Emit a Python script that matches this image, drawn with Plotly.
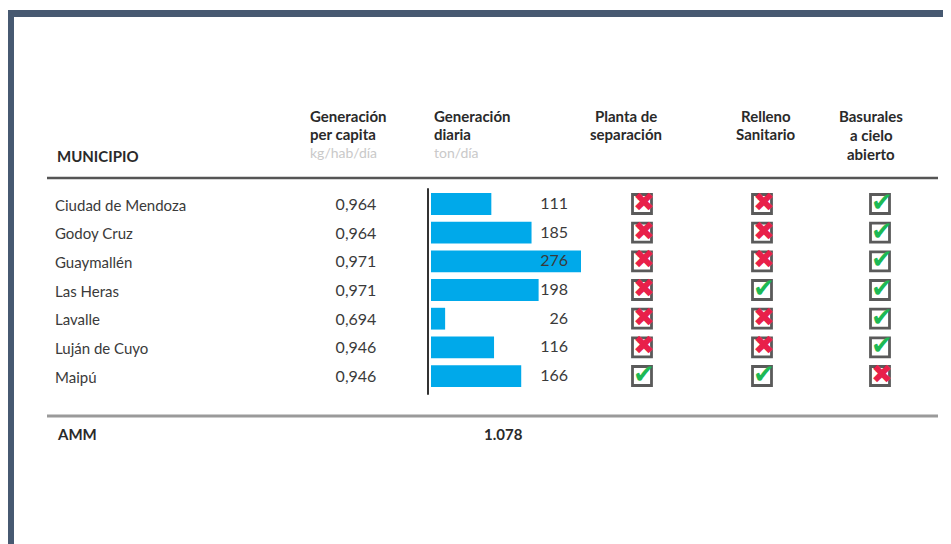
import plotly.graph_objects as go

# ---------------- data ----------------
municipios = ["Ciudad de Mendoza", "Godoy Cruz", "Guaymallén", "Las Heras",
              "Lavalle", "Luján de Cuyo", "Maipú"]
per_capita = ["0,964", "0,964", "0,971", "0,971", "0,694", "0,946", "0,946"]
diaria = [111, 185, 276, 198, 26, 116, 166]
planta = [False, False, False, False, False, False, True]
relleno = [False, False, False, True, False, False, True]
basurales = [True, True, True, True, True, True, False]
total_label = "AMM"
total_diaria = "1.078"

# ---------------- layout helpers ----------------
OFF = 8                      # page body margin of the written html
W, H = 951 - OFF, 544 - OFF  # figure size
FONT = "Lato, 'Open Sans', sans-serif"
TXT = "#3a3a3a"
rows = list(range(len(municipios)))
ROW0, ROWSTEP = 204.0, 28.67          # screen pixel centre of first row, row pitch


def px(x):
    return (x - OFF) / W


def py(y):
    return 1 - (y - OFF) / H


fig = go.Figure()

# bars
fig.add_trace(go.Bar(
    x=diaria, y=rows, orientation="h", width=0.76,
    marker=dict(color="#00A9EA", line=dict(width=0)),
    xaxis="x", yaxis="y", hoverinfo="skip", showlegend=False))

# municipality names
fig.add_trace(go.Scatter(
    x=[55] * len(rows), y=[r + 0.1 for r in rows], mode="text", text=municipios,
    textposition="middle right", textfont=dict(family=FONT, size=15, color=TXT),
    xaxis="x2", yaxis="y", hoverinfo="skip", showlegend=False))

# per capita values
fig.add_trace(go.Scatter(
    x=[356] * len(rows), y=[r + 0.07 for r in rows], mode="text", text=per_capita,
    textposition="middle center", textfont=dict(family=FONT, size=16, color=TXT),
    xaxis="x2", yaxis="y", hoverinfo="skip", showlegend=False))

# daily values
fig.add_trace(go.Scatter(
    x=[568] * len(rows), y=[r + 0.03 for r in rows], mode="text",
    text=[str(v) for v in diaria],
    textposition="middle left", textfont=dict(family=FONT, size=16, color=TXT),
    xaxis="x2", yaxis="y", hoverinfo="skip", showlegend=False))

# status columns (checkbox + mark)
for col_x, status in [(642, planta), (762, relleno), (880, basurales)]:
    fig.add_trace(go.Scatter(
        x=[col_x] * len(rows), y=rows, mode="markers",
        marker=dict(symbol="square-open", size=19, color="#5a5a5a",
                    line=dict(width=2.8, color="#5a5a5a")),
        xaxis="x2", yaxis="y", hoverinfo="skip", showlegend=False))
    fig.add_trace(go.Scatter(
        x=[col_x + 2] * len(rows), y=[r + 0.02 for r in rows], mode="text",
        text=["✔" if s else "✖" for s in status],
        textposition="middle center",
        textfont=dict(family="DejaVu Sans", size=26,
                      color=["#1DB954" if s else "#E8204A" for s in status]),
        xaxis="x2", yaxis="y", hoverinfo="skip", showlegend=False))

# y range so that rows fall on their pixel positions
top = -(ROW0 - OFF) / ROWSTEP
bottom = top + H / ROWSTEP

shapes = [
    # frame
    dict(type="rect", xref="paper", yref="paper", x0=px(6), x1=px(970),
         y0=py(17), y1=py(10), fillcolor="#475971", line=dict(width=0), layer="below"),
    dict(type="rect", xref="paper", yref="paper", x0=px(6), x1=px(14),
         y0=py(570), y1=py(10), fillcolor="#475971", line=dict(width=0), layer="below"),
    # header rule
    dict(type="line", xref="paper", yref="paper", x0=px(47), x1=px(938),
         y0=py(178), y1=py(178), line=dict(color="#555555", width=2.5)),
    # bottom rule
    dict(type="line", xref="paper", yref="paper", x0=px(47), x1=px(938),
         y0=py(416), y1=py(416), line=dict(color="#9a9a9a", width=3)),
    # bar baseline
    dict(type="line", xref="paper", yref="y",
         x0=px(428), x1=px(428), y0=-0.55, y1=len(rows) - 0.35,
         line=dict(color="#333333", width=2)),
]

annotations = []


def head(text, x, y, anchor="left", align="left", size=15, color="#2a2a2a", bold=True):
    annotations.append(dict(
        text=f"<b>{text}</b>" if bold else text, x=px(x), y=py(y),
        xref="paper", yref="paper", xanchor=anchor, yanchor="middle",
        align=align, showarrow=False,
        font=dict(family=FONT, size=size, color=color)))


head("MUNICIPIO", 55, 156)
head("Generación", 308, 116)
head("per capita", 308, 134)
head("kg/hab/día", 308, 152, size=14, color="#c9c9c9", bold=False)
head("Generación", 432, 116)
head("diaria", 432, 134)
head("ton/día", 432, 152, size=14, color="#c9c9c9", bold=False)
head("Planta de", 626, 116, anchor="center")
head("separación", 626, 134, anchor="center")
head("Relleno", 766, 116, anchor="center")
head("Sanitario", 766, 134, anchor="center")
head("Basurales", 871, 116, anchor="center")
head("a cielo", 871, 135, anchor="center")
head("abierto", 871, 154, anchor="center")
head(total_label, 55, 434)
head(total_diaria, 503, 434, anchor="center")

fig.update_layout(
    width=W, height=H, margin=dict(l=0, r=0, t=0, b=0),
    paper_bgcolor="white", plot_bgcolor="rgba(0,0,0,0)",
    xaxis=dict(domain=[px(431), px(581)], range=[0, 276], anchor="y",
               visible=False, fixedrange=True),
    xaxis2=dict(domain=[0, 1], range=[OFF, OFF + W], anchor="y",
                visible=False, fixedrange=True),
    yaxis=dict(domain=[0, 1], range=[bottom, top], anchor="x",
               visible=False, fixedrange=True),
    shapes=shapes, annotations=annotations, showlegend=False,
)

fig.write_html("out.html")
